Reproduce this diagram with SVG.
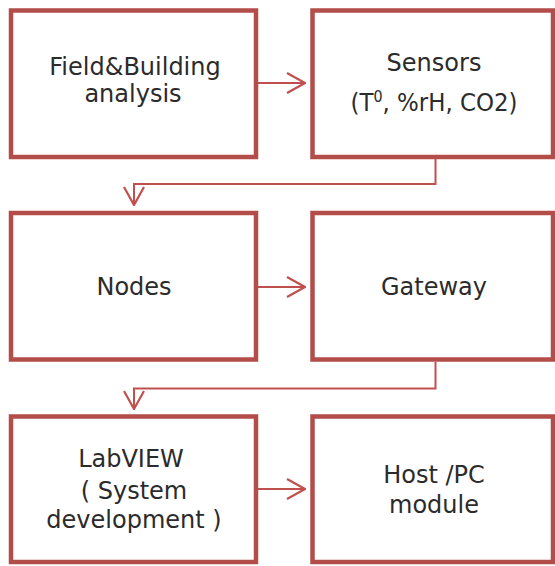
<svg xmlns="http://www.w3.org/2000/svg" width="555" height="566" viewBox="0 0 555 566">
  <style>
    .box { fill: #ffffff; stroke: #b34d4a; stroke-width: 4.5; }
    .lbl { font-family: "DejaVu Sans", "Liberation Sans", sans-serif; font-size: 24px; fill: #2b2b2b; text-anchor: middle; }
    .conn { fill: none; stroke: #c0504d; stroke-width: 2; }
  </style>
  <defs>
    <marker id="arrow" viewBox="0 0 20 22" refX="19" refY="11" markerWidth="20" markerHeight="22" markerUnits="userSpaceOnUse" orient="auto">
      <path d="M1,1 L19,11 L1,21" fill="none" stroke="#c0504d" stroke-width="2.2"/>
    </marker>
  </defs>
  <rect width="555" height="566" fill="#ffffff"/>

  <g id="connectors">
    <path class="conn" d="M257,83 H305" marker-end="url(#arrow)"/>
    <path class="conn" d="M435.5,159 V184 H134 V205" marker-end="url(#arrow)"/>
    <path class="conn" d="M257,287 H305" marker-end="url(#arrow)"/>
    <path class="conn" d="M435.5,362 V388.5 H134 V409" marker-end="url(#arrow)"/>
    <path class="conn" d="M257,489 H305" marker-end="url(#arrow)"/>
  </g>

  <g id="field-building">
    <rect class="box" x="11" y="10.5" width="245" height="146.5"/>
    <text class="lbl" x="135" y="75">Field&amp;Building</text>
    <text class="lbl" x="133" y="102">analysis</text>
  </g>

  <g id="sensors">
    <rect class="box" x="312.5" y="10.5" width="240.5" height="146.5"/>
    <text class="lbl" x="434" y="71">Sensors</text>
    <text class="lbl" x="434" y="111" textLength="167" lengthAdjust="spacingAndGlyphs">(T<tspan font-size="15" dy="-9">0</tspan><tspan dy="9">, %rH, CO2)</tspan></text>
  </g>

  <g id="nodes">
    <rect class="box" x="11" y="213" width="245" height="146.5"/>
    <text class="lbl" x="134" y="295">Nodes</text>
  </g>

  <g id="gateway">
    <rect class="box" x="312.5" y="213" width="240.5" height="146.5"/>
    <text class="lbl" x="434" y="295">Gateway</text>
  </g>

  <g id="labview">
    <rect class="box" x="11" y="416.5" width="245" height="145.5"/>
    <text class="lbl" x="131" y="467">LabVIEW</text>
    <text class="lbl" x="134" y="499">( System</text>
    <text class="lbl" x="134" y="528">development )</text>
  </g>

  <g id="host-pc">
    <rect class="box" x="312.5" y="416.5" width="240.5" height="145.5"/>
    <text class="lbl" x="434" y="483">Host /PC</text>
    <text class="lbl" x="434" y="513">module</text>
  </g>
</svg>
